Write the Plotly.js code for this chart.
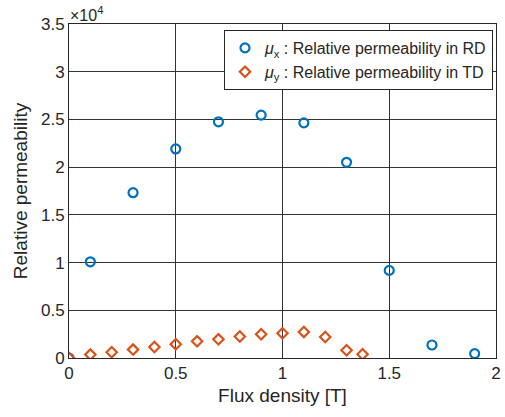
<!DOCTYPE html>
<html>
<head>
<meta charset="utf-8">
<script src="https://cdn.plot.ly/plotly-3.0.1.min.js"></script>
<style>html,body{margin:0;padding:0;background:#fff;}#chart{width:505px;height:417px;}</style>
</head>
<body>
<div id="chart"></div>
<script>
const fluxX = [0, 0.1, 0.3, 0.5, 0.7, 0.9, 1.1, 1.3, 1.5, 1.7, 1.9];
const muX = [0, 10080, 17320, 21910, 24750, 25450, 24640, 20510, 9180, 1360, 460];
const fluxY = [0, 0.1, 0.2, 0.3, 0.4, 0.5, 0.6, 0.7, 0.8, 0.9, 1.0, 1.1, 1.2, 1.3, 1.375];
const muY = [0, 360, 600, 880, 1150, 1440, 1750, 1960, 2250, 2490, 2590, 2730, 2200, 810, 390];
const yTickVals = [0, 5000, 10000, 15000, 20000, 25000, 30000, 35000];
const yTickText = ['0', '0.5', '1', '1.5', '2', '2.5', '3', '3.5'];
const xTickVals = [0, 0.5, 1, 1.5, 2];
const xTickText = ['0', '0.5', '1', '1.5', '2'];
const nameX = '<i>μ</i><sub>x</sub> : Relative permeability in RD';
const nameY = '<i>μ</i><sub>y</sub> : Relative permeability in TD';

const font = 'Liberation Sans, Arial, Helvetica, sans-serif';
const textColor = '#262626';

const traces = [
  {x: fluxX, y: muX, name: nameX, type: 'scatter', mode: 'markers',
   marker: {symbol: 'circle-open', size: 9, color: '#0072BD', line: {width: 2.2, color: '#0072BD'}}},
  {x: fluxY, y: muY, name: nameY, type: 'scatter', mode: 'markers',
   marker: {symbol: 'diamond-open', size: 8, color: '#D95319', line: {width: 2.2, color: '#D95319'}}}
];

const layout = {
  width: 505, height: 417,
  margin: {l: 69, r: 9, t: 24, b: 59},
  paper_bgcolor: '#fff', plot_bgcolor: '#fff',
  font: {family: font, color: textColor, size: 17},
  showlegend: true,
  legend: {x: 0.993, xanchor: 'right', y: 0.982, yanchor: 'top',
           bgcolor: '#fff', bordercolor: textColor, borderwidth: 1,
           font: {size: 16, color: textColor}, tracegroupgap: 0},
  xaxis: {range: [0, 2], tickvals: xTickVals, ticktext: xTickText,
          showgrid: true, gridcolor: '#333', gridwidth: 1,
          zeroline: false, showline: true, linecolor: textColor, linewidth: 1, mirror: true,
          ticks: '', tickfont: {size: 17, color: textColor},
          title: {text: 'Flux density [T]', font: {size: 19, color: textColor}, standoff: 6}},
  yaxis: {range: [0, 35000], tickvals: yTickVals, ticktext: yTickText,
          showgrid: true, gridcolor: '#333', gridwidth: 1,
          zeroline: false, showline: true, linecolor: textColor, linewidth: 1, mirror: true,
          ticks: '', tickfont: {size: 17, color: textColor},
          title: {text: 'Relative permeability', font: {size: 19, color: textColor}, standoff: 8}},
  annotations: [{xref: 'paper', yref: 'paper', x: 0, y: 1, xanchor: 'left', yanchor: 'bottom',
                 xshift: -1, yshift: -2, showarrow: false, text: '×10<sup>4</sup>',
                 font: {size: 16, color: textColor, family: font}}]
};

Plotly.newPlot('chart', traces, layout, {displayModeBar: false, staticPlot: true});
</script>
</body>
</html>
